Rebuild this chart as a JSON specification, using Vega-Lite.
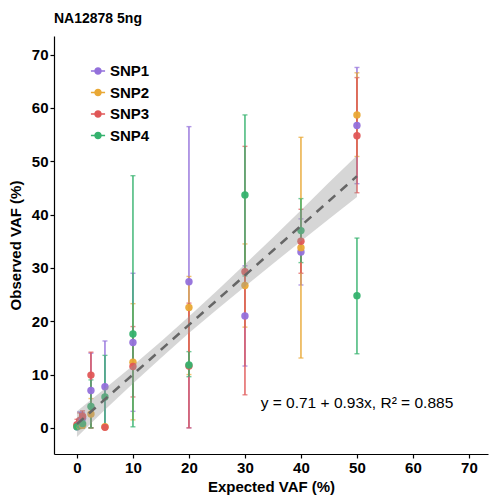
{
  "$schema": "https://vega.github.io/schema/vega-lite/v6.json",
  "width": 434,
  "height": 418,
  "autosize": "none",
  "padding": {"left": 54, "top": 36, "right": 5, "bottom": 43},
  "background": "white",
  "title": {"text": "NA12878 5ng", "anchor": "start", "frame": "group", "fontSize": 14, "fontWeight": "bold", "font": "Liberation Sans", "color": "black", "offset": 10},
  "config": {
    "view": {"stroke": null},
    "font": "Liberation Sans",
    "axis": {
      "grid": false,
      "domainColor": "black",
      "domainWidth": 1.2,
      "tickColor": "black",
      "tickWidth": 1.2,
      "tickSize": 4,
      "labelColor": "black",
      "labelFont": "Liberation Sans",
      "labelFontSize": 15,
      "labelFontWeight": "bold",
      "labelPadding": 2,
      "titleColor": "black",
      "titleFont": "Liberation Sans",
      "titleFontSize": 15,
      "titleFontWeight": "bold"
    }
  },
  "datasets": {
    "snp": [
      {"expected": 0, "snp": "SNP1", "vaf": 0.2, "lo": 0, "hi": 0.8},
      {"expected": 0, "snp": "SNP2", "vaf": 0.3, "lo": 0, "hi": 0.9},
      {"expected": 0, "snp": "SNP3", "vaf": 0.6, "lo": 0, "hi": 1.6},
      {"expected": 0, "snp": "SNP4", "vaf": 0.2, "lo": 0, "hi": 0.7},
      {"expected": 0.5, "snp": "SNP1", "vaf": 1.2, "lo": 0, "hi": 3.0},
      {"expected": 0.5, "snp": "SNP2", "vaf": 0.4, "lo": 0, "hi": 1.2},
      {"expected": 0.5, "snp": "SNP3", "vaf": 1.4, "lo": 0, "hi": 2.8},
      {"expected": 0.5, "snp": "SNP4", "vaf": 0.5, "lo": 0, "hi": 1.4},
      {"expected": 1, "snp": "SNP1", "vaf": 1.8, "lo": 0.2, "hi": 2.9},
      {"expected": 1, "snp": "SNP2", "vaf": 0.5, "lo": 0, "hi": 1.5},
      {"expected": 1, "snp": "SNP3", "vaf": 2.2, "lo": 0.4, "hi": 3.2},
      {"expected": 1, "snp": "SNP4", "vaf": 0.8, "lo": 0, "hi": 1.8},
      {"expected": 2.5, "snp": "SNP1", "vaf": 7.0, "lo": 0, "hi": 14.0},
      {"expected": 2.5, "snp": "SNP2", "vaf": 2.6, "lo": 0, "hi": 5.5},
      {"expected": 2.5, "snp": "SNP3", "vaf": 9.9, "lo": 0, "hi": 14.2},
      {"expected": 2.5, "snp": "SNP4", "vaf": 4.0, "lo": 0, "hi": 9.0},
      {"expected": 5, "snp": "SNP1", "vaf": 7.7, "lo": 0, "hi": 16.3},
      {"expected": 5, "snp": "SNP2", "vaf": 0.2, "lo": 0, "hi": 0.4},
      {"expected": 5, "snp": "SNP3", "vaf": 0.1, "lo": 0, "hi": 0.3},
      {"expected": 5, "snp": "SNP4", "vaf": 5.8, "lo": 0, "hi": 13.6},
      {"expected": 10, "snp": "SNP1", "vaf": 16.0, "lo": 3.1, "hi": 29.0},
      {"expected": 10, "snp": "SNP2", "vaf": 12.3, "lo": 1.5, "hi": 23.3},
      {"expected": 10, "snp": "SNP3", "vaf": 11.5, "lo": 5.8, "hi": 19.0},
      {"expected": 10, "snp": "SNP4", "vaf": 17.6, "lo": 0.2, "hi": 47.3},
      {"expected": 20, "snp": "SNP1", "vaf": 27.4, "lo": 0, "hi": 56.5},
      {"expected": 20, "snp": "SNP2", "vaf": 22.6, "lo": 10.0, "hi": 28.4},
      {"expected": 20, "snp": "SNP3", "vaf": 11.6, "lo": 0, "hi": 23.4},
      {"expected": 20, "snp": "SNP4", "vaf": 11.8, "lo": 9.6, "hi": 14.3},
      {"expected": 30, "snp": "SNP1", "vaf": 21.0, "lo": 11.6, "hi": 30.4},
      {"expected": 30, "snp": "SNP2", "vaf": 26.7, "lo": 18.9, "hi": 34.5},
      {"expected": 30, "snp": "SNP3", "vaf": 29.3, "lo": 6.2, "hi": 52.8},
      {"expected": 30, "snp": "SNP4", "vaf": 43.7, "lo": 28.5, "hi": 58.7},
      {"expected": 40, "snp": "SNP1", "vaf": 33.0, "lo": 26.8, "hi": 39.2},
      {"expected": 40, "snp": "SNP2", "vaf": 33.8, "lo": 13.1, "hi": 54.5},
      {"expected": 40, "snp": "SNP3", "vaf": 35.0, "lo": 29.0, "hi": 41.0},
      {"expected": 40, "snp": "SNP4", "vaf": 37.0, "lo": 31.0, "hi": 43.0},
      {"expected": 50, "snp": "SNP1", "vaf": 56.7, "lo": 45.8, "hi": 67.6},
      {"expected": 50, "snp": "SNP2", "vaf": 58.7, "lo": 50.9, "hi": 66.6},
      {"expected": 50, "snp": "SNP3", "vaf": 54.8, "lo": 44.1, "hi": 65.7},
      {"expected": 50, "snp": "SNP4", "vaf": 24.8, "lo": 13.9, "hi": 35.6}
    ],
    "fit": [
      {"expected": 0, "fit": 0.71, "lo": -1.7, "hi": 3.1},
      {"expected": 5, "fit": 5.36, "lo": 3.4, "hi": 7.4},
      {"expected": 10, "fit": 10.01, "lo": 8.3, "hi": 11.7},
      {"expected": 15, "fit": 14.66, "lo": 13.1, "hi": 16.2},
      {"expected": 20, "fit": 19.31, "lo": 17.8, "hi": 20.9},
      {"expected": 25, "fit": 23.96, "lo": 22.2, "hi": 25.7},
      {"expected": 30, "fit": 28.61, "lo": 26.5, "hi": 30.7},
      {"expected": 35, "fit": 33.26, "lo": 30.8, "hi": 35.7},
      {"expected": 40, "fit": 37.91, "lo": 35.0, "hi": 40.8},
      {"expected": 45, "fit": 42.56, "lo": 39.2, "hi": 46.0},
      {"expected": 50, "fit": 47.21, "lo": 43.3, "hi": 51.1}
    ],
    "ann": [
      {"expected": 50, "vaf": 4.7, "label": "y = 0.71 + 0.93x,  R² = 0.885"}
    ]
  },
  "layer": [
    {
      "data": {"name": "snp"},
      "mark": {"type": "errorbar", "ticks": {"size": 5}, "thickness": 1.4},
      "encoding": {
        "x": {"field": "expected", "type": "quantitative", "scale": {"domain": [-4.1, 73.4], "nice": false, "zero": false}, "axis": {"values": [0, 10, 20, 30, 40, 50, 60, 70]}, "title": "Expected VAF (%)"},
        "y": {"field": "lo", "type": "quantitative", "scale": {"domain": [-4.9, 73.5], "nice": false, "zero": false}, "axis": {"values": [0, 10, 20, 30, 40, 50, 60, 70], "titlePadding": 8}, "title": "Observed VAF (%)"},
        "y2": {"field": "hi"},
        "color": {"field": "snp", "type": "nominal", "scale": {"domain": ["SNP1", "SNP2", "SNP3", "SNP4"], "range": ["#9370DB", "#E9A835", "#E05757", "#35B26E"]},
          "legend": {"title": null, "orient": "none", "legendX": 36, "legendY": 27, "padding": 0, "offset": 0,
            "symbolType": "M -1 0 L 1 0 M 0.42 0 A 0.42 0.42 0 1 1 -0.42 0 A 0.42 0.42 0 1 1 0.42 0 Z",
            "symbolSize": 200, "symbolStrokeWidth": 1.5, "symbolOpacity": 1,
            "labelFont": "Liberation Sans", "labelFontSize": 15, "labelFontWeight": "bold", "labelColor": "black", "labelOffset": 4, "rowPadding": 5.5,
            "encode": {"symbols": {"update": {"stroke": {"scale": "color", "field": "value"}, "fill": {"scale": "color", "field": "value"}}}}}}
      }
    },
    {
      "data": {"name": "snp"},
      "mark": {"type": "point", "filled": true, "size": 55, "opacity": 0.95},
      "encoding": {
        "x": {"field": "expected", "type": "quantitative", "scale": {"domain": [-4.1, 73.4], "nice": false, "zero": false}},
        "y": {"field": "vaf", "type": "quantitative", "scale": {"domain": [-4.9, 73.5], "nice": false, "zero": false}},
        "color": {"field": "snp", "type": "nominal", "scale": {"domain": ["SNP1", "SNP2", "SNP3", "SNP4"], "range": ["#9370DB", "#E9A835", "#E05757", "#35B26E"]},
          "legend": {"title": null, "orient": "none", "legendX": 36, "legendY": 27, "padding": 0, "offset": 0,
            "symbolType": "M -1 0 L 1 0 M 0.42 0 A 0.42 0.42 0 1 1 -0.42 0 A 0.42 0.42 0 1 1 0.42 0 Z",
            "symbolSize": 200, "symbolStrokeWidth": 1.5, "symbolOpacity": 1,
            "labelFont": "Liberation Sans", "labelFontSize": 15, "labelFontWeight": "bold", "labelColor": "black", "labelOffset": 4, "rowPadding": 5.5,
            "encode": {"symbols": {"update": {"stroke": {"scale": "color", "field": "value"}, "fill": {"scale": "color", "field": "value"}}}}}}
      }
    },
    {
      "data": {"name": "fit"},
      "mark": {"type": "area", "color": "#999999", "opacity": 0.4},
      "encoding": {
        "x": {"field": "expected", "type": "quantitative", "scale": {"domain": [-4.1, 73.4], "nice": false, "zero": false}},
        "y": {"field": "lo", "type": "quantitative", "scale": {"domain": [-4.9, 73.5], "nice": false, "zero": false}},
        "y2": {"field": "hi"}
      }
    },
    {
      "data": {"name": "fit"},
      "mark": {"type": "line", "color": "#666666", "strokeWidth": 2.5, "strokeDash": [9, 7]},
      "encoding": {
        "x": {"field": "expected", "type": "quantitative", "scale": {"domain": [-4.1, 73.4], "nice": false, "zero": false}},
        "y": {"field": "fit", "type": "quantitative", "scale": {"domain": [-4.9, 73.5], "nice": false, "zero": false}}
      }
    },
    {
      "data": {"name": "ann"},
      "mark": {"type": "text", "font": "Liberation Sans", "fontSize": 15.5, "color": "black", "align": "center", "baseline": "middle"},
      "encoding": {
        "x": {"field": "expected", "type": "quantitative", "scale": {"domain": [-4.1, 73.4], "nice": false, "zero": false}},
        "y": {"field": "vaf", "type": "quantitative", "scale": {"domain": [-4.9, 73.5], "nice": false, "zero": false}},
        "text": {"field": "label"}
      }
    }
  ]
}
